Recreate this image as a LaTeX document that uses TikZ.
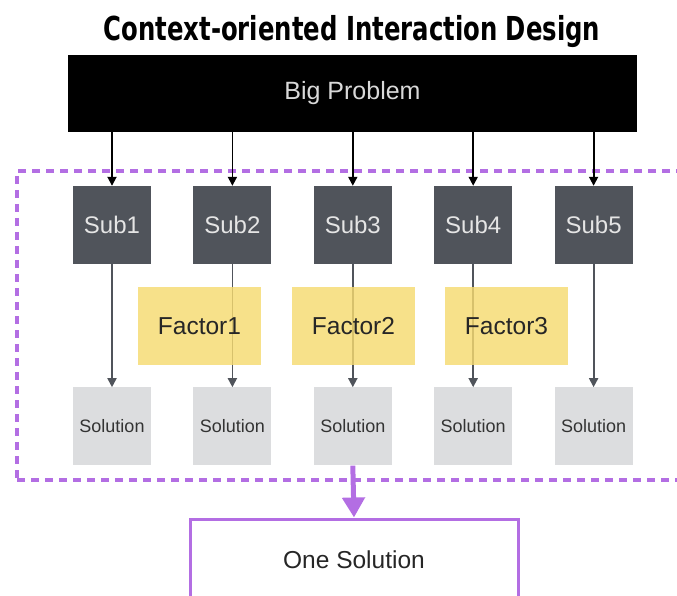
\documentclass[tikz,border=0pt]{standalone}
\usepackage{fontspec}
\setmainfont{Liberation Sans}
\newfontfamily\titlefont{DejaVu Sans Condensed}
\usepackage{xcolor}
\usepackage{tikz}
\usetikzlibrary{positioning}
\usetikzlibrary{arrows.meta}

\definecolor{subgray}{RGB}{80,84,91}
\definecolor{factoryellow}{RGB}{245,218,112}
\definecolor{solgray}{RGB}{220,221,223}
\definecolor{groupviolet}{RGB}{179,110,227}

\tikzset{
  bigbox/.style={fill=black, text=white!85!black, minimum width=569pt, minimum height=77pt, font=\fontsize{25}{28}\selectfont},
  subbox/.style={fill=subgray, text=white!90!black, minimum width=78pt, minimum height=78pt, font=\fontsize{24}{28}\selectfont},
  factorbox/.style={fill=factoryellow, fill opacity=0.82, text opacity=1, text=black!85, minimum width=123pt, minimum height=78pt, font=\fontsize{24.5}{28}\selectfont},
  solbox/.style={fill=solgray, text=black!80, minimum width=78pt, minimum height=78pt, font=\fontsize{18}{21}\selectfont},
  groupbox/.style={draw=groupviolet, line width=3.5pt, dash pattern=on 8pt off 6pt, minimum width=683pt, minimum height=309pt},
  onebox/.style={draw=groupviolet, fill=white, line width=3pt, minimum width=328pt, minimum height=82pt, text=black!85, font=\fontsize{24.5}{28}\selectfont},
  blackarrow/.style={->, >={Triangle[width=9pt, length=9pt]}, line width=1.8pt, black},
  grayarrow/.style={->, >={Triangle[width=9pt, length=9pt]}, line width=1.8pt, subgray},
  violetarrow/.style={->, >={Triangle[width=22pt, length=20pt]}, line width=5pt, groupviolet}
}

\begin{document}
\begin{tikzpicture}[x=1pt, y=-1pt, node distance=42pt, every text node part/.style={align=center}]
\useasboundingbox (0,0) rectangle (677,596);
\clip (0,0) rectangle (677,596);

\node (title) [anchor=base] at (352,41) {\scalebox{0.82}[1]{\titlefont\bfseries\fontsize{33}{36}\selectfont Context-oriented Interaction Design}};

\node (group) [groupbox] at (358.5,325.5) {};

\node (big) [bigbox] at (352.5,93.5) {Big Problem};

\node (sub1) [subbox] at (112,225) {Sub1};
\node (sub2) [subbox, right=of sub1] {Sub2};
\node (sub3) [subbox, right=of sub2] {Sub3};
\node (sub4) [subbox, right=of sub3] {Sub4};
\node (sub5) [subbox, right=of sub4] {Sub5};

\node (sol1) [solbox, below=123pt of sub1] {Solution};
\node (sol2) [solbox, below=123pt of sub2] {Solution};
\node (sol3) [solbox, below=123pt of sub3] {Solution};
\node (sol4) [solbox, below=123pt of sub4] {Solution};
\node (sol5) [solbox, below=123pt of sub5] {Solution};

\draw [blackarrow] (big.south -| sub1) -- (sub1.north);
\draw [blackarrow] (big.south -| sub2) -- (sub2.north);
\draw [blackarrow] (big.south -| sub3) -- (sub3.north);
\draw [blackarrow] (big.south -| sub4) -- (sub4.north);
\draw [blackarrow] (big.south -| sub5) -- (sub5.north);

\draw [grayarrow] (sub1.south) -- (sol1.north);
\draw [grayarrow] (sub2.south) -- (sol2.north);
\draw [grayarrow] (sub3.south) -- (sol3.north);
\draw [grayarrow] (sub4.south) -- (sol4.north);
\draw [grayarrow] (sub5.south) -- (sol5.north);

% factors sit over the arrows, a little see-through
\node (factor1) [factorbox] at (199.5,326) {Factor1};
\node (factor2) [factorbox] at (353.5,326) {Factor2};
\node (factor3) [factorbox] at (506.5,326) {Factor3};

\node (one) [onebox] at (354,560) {One Solution};

\draw [violetarrow] (sol3.south) -- (one.north);

\end{tikzpicture}
\end{document}
